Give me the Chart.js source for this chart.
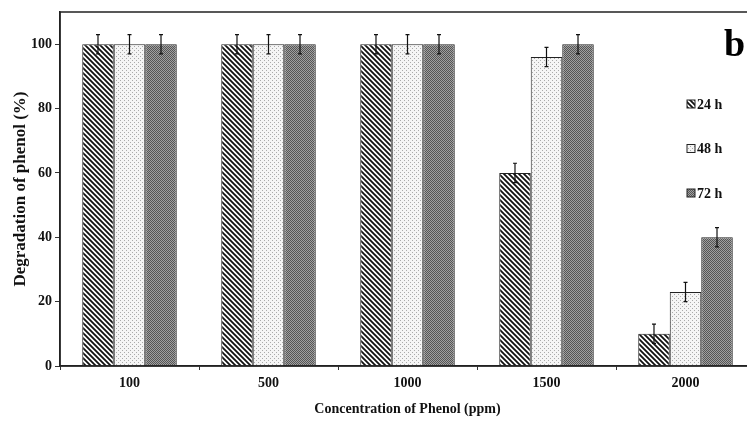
<!DOCTYPE html>
<html>
<head>
<meta charset="utf-8">
<script src="https://cdn.jsdelivr.net/npm/chart.js@4/dist/chart.umd.min.js"></script>
<style>
  html, body { margin: 0; padding: 0; background: #fff; overflow: hidden; }
  #wrap { width: 760px; height: 422px; }
</style>
</head>
<body>
<div id="wrap"><canvas id="chart" width="760" height="422"></canvas></div>
<script>
// data
const categories = ['100', '500', '1000', '1500', '2000'];
const seriesLabels = ['24 h', '48 h', '72 h'];
const deg24 = [100, 100, 100, 60, 10];
const deg48 = [100, 100, 100, 96, 23];
const deg72 = [100, 100, 100, 100, 40];
const err24 = [3, 3, 3, 3, 3];
const err48 = [3, 3, 3, 3, 3];
const err72 = [3, 3, 3, 3, 3];
const yTicks = [0, 20, 40, 60, 80, 100];

const serif = '"Liberation Serif", "DejaVu Serif", serif';

// --- fill patterns ---
function patStripes() {
    const c = document.createElement('canvas');
    c.width = 5; c.height = 5;
    const g = c.getContext('2d');
    g.fillStyle = '#fff'; g.fillRect(0, 0, 5, 5);
    g.strokeStyle = '#111'; g.lineWidth = 1.8;
    g.beginPath();
    g.moveTo(-1, -1); g.lineTo(6, 6);
    g.moveTo(-1, 4); g.lineTo(1, 6);
    g.moveTo(4, -1); g.lineTo(6, 1);
    g.stroke();
    return g.createPattern(c, 'repeat');
}
function patDots() {
    const c = document.createElement('canvas');
    c.width = 4; c.height = 4;
    const g = c.getContext('2d');
    g.fillStyle = '#f5f5f5'; g.fillRect(0, 0, 4, 4);
    g.fillStyle = '#aaaaaa';
    g.fillRect(0, 0, 1, 1);
    g.fillRect(2, 2, 1, 1);
    return g.createPattern(c, 'repeat');
}
function patChecker() {
    const c = document.createElement('canvas');
    c.width = 2; c.height = 2;
    const g = c.getContext('2d');
    g.fillStyle = '#a0a0a0'; g.fillRect(0, 0, 2, 2);
    g.fillStyle = '#555555';
    g.fillRect(0, 0, 1, 1);
    g.fillRect(1, 1, 1, 1);
    return g.createPattern(c, 'repeat');
}
const fills = [patStripes(), patDots(), patChecker()];
const errs = [err24, err48, err72];

// error bars + frame + legend + panel letter
const extras = {
    id: 'extras',
    afterDatasetsDraw(chart) {
        const ctx = chart.ctx;
        const y = chart.scales.y;
        ctx.save();
        ctx.strokeStyle = '#111';
        ctx.lineWidth = 1.2;
        chart.data.datasets.forEach((ds, i) => {
            const meta = chart.getDatasetMeta(i);
            meta.data.forEach((bar, j) => {
                const v = ds.data[j], e = errs[i][j];
                const top = y.getPixelForValue(v + e);
                const bot = y.getPixelForValue(v - e);
                ctx.beginPath();
                ctx.moveTo(bar.x, top); ctx.lineTo(bar.x, bot);
                ctx.moveTo(bar.x - 2, top); ctx.lineTo(bar.x + 2, top);
                ctx.moveTo(bar.x - 2, bot); ctx.lineTo(bar.x + 2, bot);
                ctx.stroke();
            });
        });
        ctx.restore();
    },
    afterDraw(chart) {
        const ctx = chart.ctx;
        const a = chart.chartArea;
        ctx.save();
        ctx.strokeStyle = '#222';
        ctx.lineWidth = 1.5;
        ctx.strokeRect(a.left, a.top, a.right - a.left, a.bottom - a.top);

        // panel letter
        ctx.fillStyle = '#000';
        ctx.font = 'bold 38px ' + serif;
        ctx.textAlign = 'left';
        ctx.textBaseline = 'middle';
        ctx.fillText('b', a.right - 31, a.top + 34);

        // legend
        ctx.font = 'bold 14px ' + serif;
        seriesLabels.forEach((lab, i) => {
            const ly = a.top + 92 + i * 44.5;
            const lx = a.right - 68;
            ctx.fillStyle = fills[i];
            ctx.fillRect(lx, ly - 4, 8, 8);
            ctx.strokeStyle = '#222';
            ctx.lineWidth = 1;
            ctx.strokeRect(lx, ly - 4, 8, 8);
            ctx.fillStyle = '#111';
            ctx.fillText(lab, lx + 10, ly + 1);
        });
        ctx.restore();
    }
};

new Chart(document.getElementById('chart'), {
    type: 'bar',
    data: {
        labels: categories,
        datasets: [deg24, deg48, deg72].map((d, i) => ({
            label: seriesLabels[i],
            data: d,
            backgroundColor: fills[i],
            borderColor: '#222',
            borderWidth: 1,
            categoryPercentage: 0.68,
            barPercentage: 1.0
        }))
    },
    options: {
        responsive: false,
        animation: false,
        devicePixelRatio: 1,
        layout: { padding: { top: 12, right: 5, left: 10, bottom: 0 } },
        plugins: {
            legend: { display: false },
            tooltip: { enabled: false }
        },
        scales: {
            x: {
                offset: true,
                grid: {
                    display: true, drawOnChartArea: false, drawTicks: true,
                    tickLength: 4, color: '#333', offset: true
                },
                border: { color: '#222', width: 1.5 },
                ticks: { color: '#111', font: { family: serif, size: 14, weight: 'bold' }, padding: 5 },
                title: {
                    display: true, text: 'Concentration of Phenol (ppm)', color: '#111',
                    font: { family: serif, size: 14, weight: 'bold' }, padding: { top: 6 }
                },
                afterFit(s) { s.height = 56; }
            },
            y: {
                min: 0, max: 110,
                afterBuildTicks(s) { s.ticks = yTicks.map(v => ({ value: v })); },
                grid: { display: true, drawOnChartArea: false, tickLength: 5, color: '#333' },
                border: { color: '#222', width: 1.5 },
                ticks: { color: '#111', font: { family: serif, size: 14, weight: 'bold' }, padding: 3 },
                title: {
                    display: true, text: 'Degradation of phenol (%)', color: '#111',
                    font: { family: serif, size: 17, weight: 'bold' }, padding: { top: 0, bottom: 2 }
                },
                afterFit(s) { s.width = 50; }
            }
        }
    },
    plugins: [extras]
});
</script>
</body>
</html>
